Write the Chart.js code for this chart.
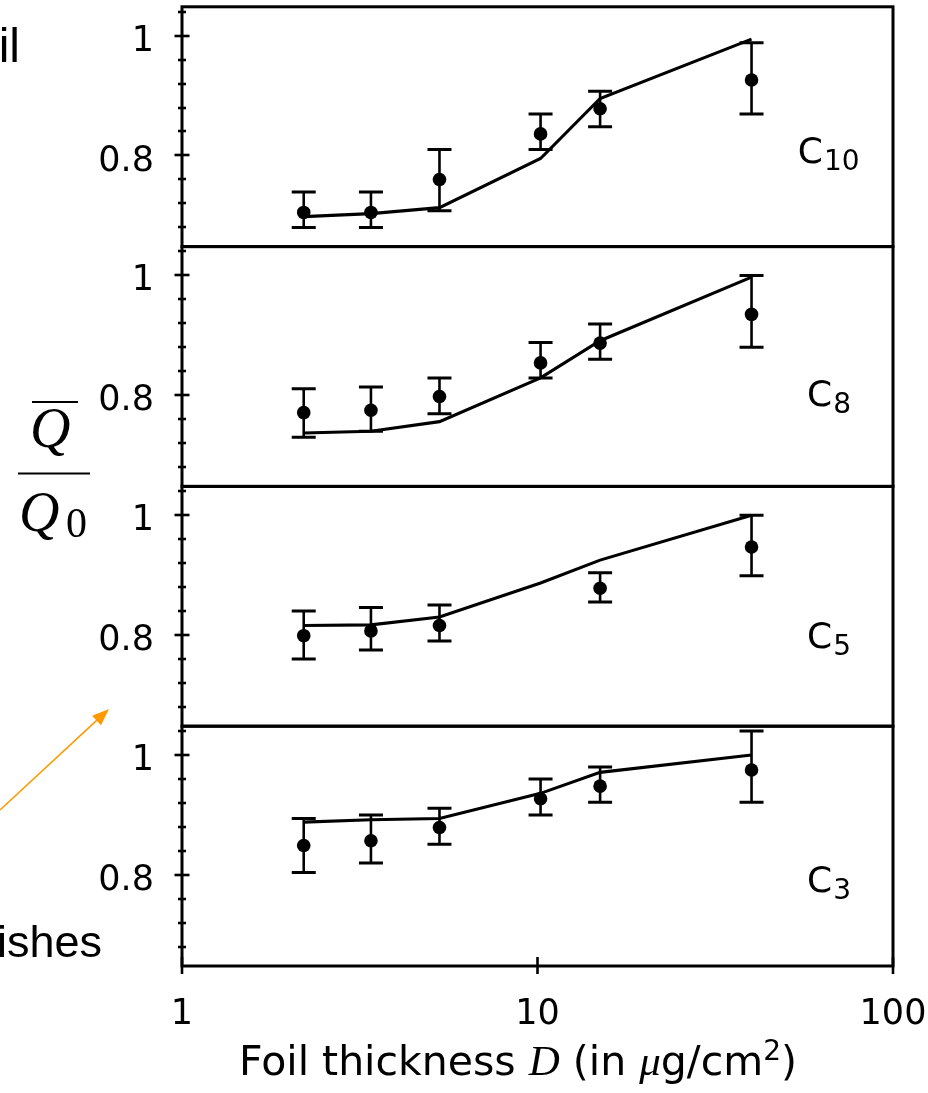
<!DOCTYPE html>
<html>
<head>
<meta charset="utf-8">
<script src="https://cdn.jsdelivr.net/npm/chart.js@4.4.0/dist/chart.umd.min.js"></script>
<style>
html,body{margin:0;padding:0;background:#fff;}
#wrap{width:928px;height:1093px;position:relative;}
</style>
</head>
<body>
<div id="wrap"><canvas id="chart"></canvas></div>
<script>
// foil thickness D (ug/cm2) of each measurement
const thickness = [2.2, 3.4, 5.3, 10.2, 15, 40];

// panel names, top to bottom
const panelNames = ['C10', 'C8', 'C5', 'C3'];

// measured Q/Q0 with error bar ends (null = no point)
const measC10 = [0.705, 0.705, 0.760, 0.836, 0.878, 0.926];
const hiC10   = [0.739, 0.739, 0.810, 0.869, 0.907, 0.988];
const loC10   = [0.680, 0.680, 0.708, 0.810, 0.848, 0.869];
const calcC10 = [0.698, 0.703, 0.713, 0.795, 0.895, 0.994];

const measC8 = [0.771, 0.775, 0.798, 0.854, 0.887, 0.935];
const hiC8   = [0.811, 0.814, 0.829, 0.888, 0.919, 1.000];
const loC8   = [0.730, 0.740, 0.769, 0.829, 0.860, 0.880];
const calcC8 = [0.737, 0.740, 0.756, 0.829, 0.891, 0.997];

const measC5 = [0.799, 0.807, 0.816, null, 0.878, 0.947];
const hiC5   = [0.840, 0.846, 0.850, null, 0.904, 1.000];
const loC5   = [0.760, 0.775, 0.790, null, 0.855, 0.899];
const calcC5 = [0.816, 0.817, 0.830, 0.887, 0.925, 1.000];

const measC3 = [0.849, 0.857, 0.879, 0.927, 0.948, 0.975];
const hiC3   = [0.894, 0.900, 0.911, 0.960, 0.980, 1.040];
const loC3   = [0.804, 0.820, 0.851, 0.900, 0.921, 0.921];
const calcC3 = [0.888, 0.892, 0.894, 0.936, 0.971, 1.000];

// axes
const xTickValues = [1, 10, 100];
const xTickLabels = ['1', '10', '100'];
const yTickValues = [0.68, 0.72, 0.76, 0.8, 0.84, 0.88, 0.92, 0.96, 1, 1.04];
const yLabelled = [0.8, 1];

const series = [
  {meas: measC10, hi: hiC10, lo: loC10, calc: calcC10},
  {meas: measC8, hi: hiC8, lo: loC8, calc: calcC8},
  {meas: measC5, hi: hiC5, lo: loC5, calc: calcC5},
  {meas: measC3, hi: hiC3, lo: loC3, calc: calcC3}
];

// where the panel names sit (x value, y value)
const nameAt = [[54, 0.787], [57.3, 0.782], [57.3, 0.778], [57.3, 0.772]];

const TICK_FONT = {family: 'DejaVu Sans', size: 35};

function toPoints(vals){
  const pts = [];
  vals.forEach((v, i) => { if(v != null) pts.push({x: thickness[i], y: v}); });
  return pts;
}

function isLabelled(v){
  return yLabelled.some(m => Math.abs(m - v) < 1e-6);
}

// no extra room for labels that hang over the plot edges
function noPad(s){
  s.paddingTop = 0; s.paddingBottom = 0;
  s.paddingLeft = 0; s.paddingRight = 0;
}

// datasets
const datasets = [];
series.forEach((s, i) => {
  datasets.push({
    label: panelNames[i] + ' calc',
    data: toPoints(s.calc),
    yAxisID: 'y' + i,
    showLine: true,
    borderColor: '#000',
    borderWidth: 3.1,
    pointRadius: 0,
    tension: 0
  });
  datasets.push({
    label: panelNames[i] + ' exp',
    data: toPoints(s.meas),
    yAxisID: 'y' + i,
    showLine: false,
    pointRadius: 6.8,
    pointBackgroundColor: '#000',
    pointBorderWidth: 0
  });
});

// scales
const scales = {
  x: {
    type: 'logarithmic',
    position: 'bottom',
    min: 1,
    max: 100,
    grid: {display: false},
    border: {display: false},
    afterBuildTicks: s => { s.ticks = xTickValues.map(v => ({value: v})); },
    afterFit: s => { s.height = 127; noPad(s); },
    ticks: {
      font: TICK_FONT,
      color: '#000',
      padding: 20,
      maxRotation: 0,
      autoSkip: false,
      callback: (v, i) => xTickLabels[i]
    }
  }
};
series.forEach((s, i) => {
  scales['y' + i] = {
    type: 'linear',
    position: 'left',
    stack: 'panels',
    stackWeight: 1,
    weight: 4 - i,
    min: 0.648,
    max: 1.048,
    grid: {display: false},
    border: {display: false},
    afterBuildTicks: sc => { sc.ticks = yTickValues.map(v => ({value: v})); },
    afterFit: sc => { sc.width = 100; noPad(sc); },
    ticks: {
      font: TICK_FONT,
      color: '#000',
      padding: 20,
      labelOffset: 6,
      autoSkip: false,
      callback: v => isLabelled(v) ? String(v) : ''
    }
  };
});

function drawArrow(ctx, x0, y0, x1, y1){
  const a = Math.atan2(y1 - y0, x1 - x0);
  ctx.beginPath();
  ctx.moveTo(x0, y0);
  ctx.lineTo(x1 - 12*Math.cos(a), y1 - 12*Math.sin(a));
  ctx.stroke();
  ctx.beginPath();
  ctx.moveTo(x1, y1);
  ctx.lineTo(x1 - 17*Math.cos(a) + 6.5*Math.sin(a), y1 - 17*Math.sin(a) - 6.5*Math.cos(a));
  ctx.lineTo(x1 - 17*Math.cos(a) - 6.5*Math.sin(a), y1 - 17*Math.sin(a) + 6.5*Math.cos(a));
  ctx.closePath();
  ctx.fill();
}

// frame, ticks and error bars under the data
const panelDecor = {
  id: 'panelDecor',
  beforeDatasetsDraw(chart){
    const ctx = chart.ctx;
    const area = chart.chartArea;
    const xs = chart.scales.x;
    ctx.save();
    ctx.strokeStyle = '#000';
    ctx.lineCap = 'butt';
    series.forEach((s, i) => {
      const ys = chart.scales['y' + i];
      ctx.lineWidth = 3;
      ctx.strokeRect(area.left, ys.top, area.right - area.left, ys.bottom - ys.top);
      ctx.lineWidth = 2.6;
      ys.ticks.forEach(t => {
        const y = Math.round(ys.getPixelForValue(t.value));
        const len = isLabelled(t.value) ? 7.5 : 4;
        ctx.beginPath();
        ctx.moveTo(area.left - len, y);
        ctx.lineTo(area.left + len, y);
        ctx.stroke();
      });
      // error bars
      thickness.forEach((d, j) => {
        if(s.hi[j] == null) return;
        const x = xs.getPixelForValue(d);
        const yh = ys.getPixelForValue(s.hi[j]);
        const yl = ys.getPixelForValue(s.lo[j]);
        ctx.lineWidth = 2.6;
        ctx.beginPath();
        ctx.moveTo(x, yh);
        ctx.lineTo(x, yl);
        ctx.stroke();
        ctx.lineWidth = 3;
        ctx.beginPath();
        ctx.moveTo(x - 12, yh); ctx.lineTo(x + 12, yh);
        ctx.moveTo(x - 12, yl); ctx.lineTo(x + 12, yl);
        ctx.stroke();
      });
    });
    // x ticks on the bottom edge
    ctx.lineWidth = 2.6;
    xs.ticks.forEach(t => {
      const x = xs.getPixelForValue(t.value);
      ctx.beginPath();
      ctx.moveTo(x, area.bottom - 9);
      ctx.lineTo(x, area.bottom + 8);
      ctx.stroke();
    });
    ctx.restore();
  },
  afterDraw(chart){
    const ctx = chart.ctx;
    const xs = chart.scales.x;
    ctx.save();
    ctx.fillStyle = '#000';
    ctx.textBaseline = 'alphabetic';

    // panel names with subscripts
    panelNames.forEach((n, i) => {
      const ys = chart.scales['y' + i];
      const x = xs.getPixelForValue(nameAt[i][0]);
      const y = ys.getPixelForValue(nameAt[i][1]);
      ctx.textAlign = 'left';
      ctx.font = '36px "DejaVu Sans"';
      ctx.fillText('C', x, y);
      const w = ctx.measureText('C').width;
      ctx.font = '28px "DejaVu Sans"';
      ctx.fillText(n.slice(1), x + w + 1, y + 7);
    });

    // x axis title
    const parts = [
      ['Foil thickness ', '41px "DejaVu Sans"', 0],
      ['D', 'italic 43px "Liberation Serif"', 0],
      [' (in ', '41px "DejaVu Sans"', 0],
      ['\u03bc', 'italic 43px "Liberation Serif"', 0],
      ['g/cm', '41px "DejaVu Sans"', 0],
      ['2', '28px "DejaVu Sans"', -15],
      [')', '41px "DejaVu Sans"', 0]
    ];
    let total = 0;
    parts.forEach(p => { ctx.font = p[1]; total += ctx.measureText(p[0]).width; });
    let tx = 518 - total / 2;
    parts.forEach(p => {
      ctx.font = p[1];
      ctx.fillText(p[0], tx, 1075 + p[2]);
      tx += ctx.measureText(p[0]).width;
    });

    // y axis label: Q-bar over Q0
    ctx.font = 'italic 56px "Liberation Serif"';
    ctx.fillText('Q', 30, 447);
    ctx.fillText('Q', 19, 531);
    ctx.font = '42px "Liberation Serif"';
    ctx.fillText('0', 66, 537);
    ctx.lineWidth = 2;
    ctx.strokeStyle = '#000';
    ctx.beginPath();
    ctx.moveTo(32, 402); ctx.lineTo(78, 402);
    ctx.moveTo(18, 473.5); ctx.lineTo(90, 473.5);
    ctx.stroke();

    // slide text cut by the picture edge
    ctx.font = '48px "Liberation Sans"';
    ctx.textAlign = 'right';
    ctx.fillText('il', 20, 62);
    ctx.font = '45px "Liberation Sans"';
    ctx.textAlign = 'left';
    ctx.fillText('ishes', -3, 957);

    // orange pointer arrow
    ctx.strokeStyle = '#ff9900';
    ctx.fillStyle = '#ff9900';
    ctx.lineWidth = 1.6;
    drawArrow(ctx, 0, 810, 109, 709);
    ctx.restore();
  }
};

new Chart(document.getElementById('chart'), {
  type: 'scatter',
  data: {datasets},
  options: {
    responsive: true,
    maintainAspectRatio: false,
    animation: false,
    layout: {padding: {left: 82, right: 35, top: 6, bottom: 0}},
    plugins: {legend: {display: false}, tooltip: {enabled: false}, title: {display: false}},
    scales
  },
  plugins: [panelDecor]
});
</script>
</body>
</html>
